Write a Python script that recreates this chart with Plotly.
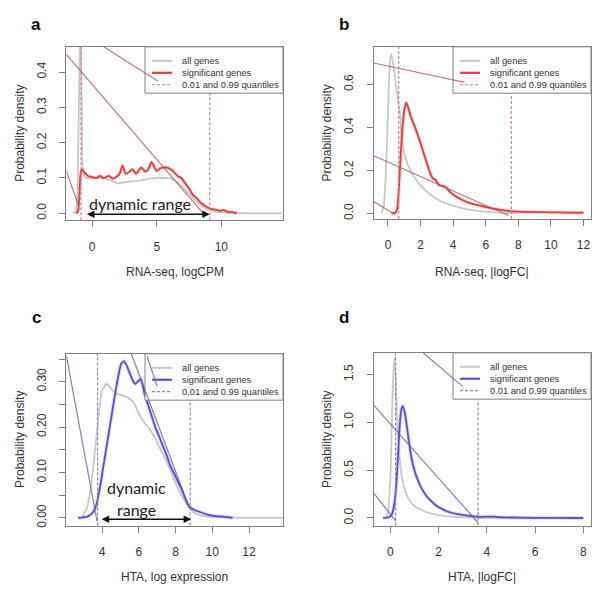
import plotly.graph_objects as go

# ---------------- data ----------------
# panel a: RNA-seq, logCPM
a_all_x = [-1.5, -1.3, -1.15, -1.05, -0.95, -0.9, -0.85, -0.8, -0.75, -0.65, -0.5, -0.2, 0, 0.5, 1, 1.5, 2, 2.5, 3, 3.5, 4,
           4.5, 5, 5.5, 6, 6.5, 7, 7.5, 8, 8.5, 9, 9.5, 10, 11, 12, 13, 14.7]
a_all_y = [0, 0.005, 0.05, 0.25, 0.5, 0.6, 0.45, 0.25, 0.14, 0.11, 0.1, 0.1, 0.1, 0.1, 0.098, 0.092, 0.085, 0.088, 0.09,
           0.092, 0.095, 0.098, 0.1, 0.1, 0.1, 0.09, 0.075, 0.055, 0.035, 0.02, 0.01, 0.005, 0.003, 0.001, 0, 0, 0]
a_sig_x = [-1.25, -1.1, -1.0, -0.9, -0.8, -0.7, -0.5, -0.3, 0, 0.3, 0.6, 0.9, 1.3, 1.6, 1.9, 2.1, 2.35, 2.6, 2.9, 3.1,
           3.4, 3.8, 4.1, 4.3, 4.6, 5.0, 5.3, 5.75, 6.0, 6.3, 6.6, 6.9, 7.2, 7.5, 7.8, 8.1, 8.4, 8.7, 9.0, 9.3, 9.6,
           9.9, 10.2, 10.5, 10.8, 11.2]
a_sig_y = [0, 0.005, 0.04, 0.11, 0.125, 0.12, 0.112, 0.105, 0.103, 0.1, 0.106, 0.1, 0.106, 0.098, 0.104, 0.11, 0.135,
           0.112, 0.118, 0.125, 0.112, 0.13, 0.118, 0.122, 0.145, 0.12, 0.128, 0.13, 0.126, 0.118, 0.106, 0.1, 0.085,
           0.07, 0.052, 0.042, 0.03, 0.022, 0.015, 0.012, 0.01, 0.007, 0.009, 0.004, 0.003, 0]
a_quant = [-0.86, 9.1]
a_range_arrow = [-0.52, 9.1]

# panel b: RNA-seq, |logFC|
b_all_x = [-0.4, -0.25, -0.1, 0, 0.1, 0.18, 0.27, 0.4, 0.55, 0.72, 0.82, 1.0, 1.2, 1.45, 1.7, 2.0, 2.4, 2.9, 3.4, 4.1,
           4.8, 5.5, 6.2, 7, 8]
b_all_y = [0, 0.04, 0.25, 0.48, 0.68, 0.74, 0.72, 0.65, 0.56, 0.47, 0.37, 0.28, 0.23, 0.19, 0.16, 0.13, 0.1, 0.072,
           0.052, 0.034, 0.02, 0.012, 0.007, 0.003, 0.001]
b_sig_x = [0.2, 0.45, 0.55, 0.62, 0.7, 0.8, 0.9, 1.0, 1.13, 1.25, 1.4, 1.64, 1.85, 2.05, 2.25, 2.45, 2.6, 2.76, 2.9,
           3.05, 3.2, 3.4, 3.58, 3.8, 4.1, 4.5, 4.9, 5.5, 6.1, 6.7, 7.36, 8, 9, 10, 11, 12]
b_sig_y = [0, 0.004, 0.015, 0.06, 0.16, 0.3, 0.41, 0.48, 0.515, 0.49, 0.45, 0.405, 0.36, 0.315, 0.265, 0.22, 0.185,
           0.162, 0.158, 0.14, 0.13, 0.127, 0.12, 0.1, 0.082, 0.065, 0.051, 0.038, 0.028, 0.019, 0.012, 0.008, 0.006,
           0.005, 0.004, 0.003]
b_quant = [0.66, 7.57]

# panel c: HTA, log expression
c_all_x = [2.9, 3.2, 3.4, 3.6, 3.8, 4.0, 4.25, 4.5, 4.8, 5.1, 5.4, 5.7, 6.0, 6.3, 6.6, 6.9, 7.2, 7.5, 7.8, 8.1, 8.4,
           8.7, 9.0, 9.4, 10, 11, 12, 13, 13.85]
c_all_y = [0, 0.025, 0.07, 0.14, 0.22, 0.28, 0.295, 0.285, 0.274, 0.27, 0.265, 0.255, 0.23, 0.21, 0.195, 0.175, 0.15,
           0.125, 0.097, 0.068, 0.045, 0.025, 0.012, 0.005, 0.002, 0.001, 0, 0, 0]
c_sig_x = [2.7, 3.2, 3.5, 3.7, 3.9, 4.1, 4.3, 4.5, 4.7, 4.9, 5.05, 5.2, 5.35, 5.5, 5.65, 5.8, 5.95, 6.1, 6.2, 6.3, 6.5,
           6.7, 6.9, 7.1, 7.3, 7.5, 7.7, 7.9, 8.1, 8.3, 8.5, 8.75, 9.0, 9.4, 9.8, 10.2, 10.6, 11.1]
c_sig_y = [0, 0.003, 0.012, 0.03, 0.07, 0.12, 0.17, 0.22, 0.27, 0.315, 0.34, 0.345, 0.335, 0.32, 0.305, 0.295, 0.3,
           0.306, 0.295, 0.275, 0.25, 0.225, 0.2, 0.18, 0.16, 0.14, 0.117, 0.1, 0.083, 0.066, 0.047, 0.025, 0.018,
           0.012, 0.007, 0.004, 0.003, 0]
c_quant = [3.76, 8.8]
c_range_arrow = [3.9, 8.85]

# panel d: HTA, |logFC|
d_all_x = [-0.2, -0.1, 0, 0.05, 0.1, 0.165, 0.22, 0.3, 0.4, 0.5, 0.62, 0.74, 0.9, 1.1, 1.4, 1.8, 2.3, 2.8, 3.5, 5, 8]
d_all_y = [0, 0.05, 0.4, 0.85, 1.35, 1.67, 1.5, 0.95, 0.6, 0.4, 0.28, 0.21, 0.15, 0.11, 0.07, 0.04, 0.02, 0.01, 0.005,
           0.001, 0]
d_sig_x = [-0.3, -0.1, 0.05, 0.15, 0.25, 0.33, 0.4, 0.46, 0.52, 0.6, 0.68, 0.76, 0.86, 1.0, 1.15, 1.3, 1.5, 1.7, 1.9,
           2.1, 2.4, 2.8, 3.2, 3.7, 4.3, 4.5, 5, 6, 7, 8]
d_sig_y = [0, 0.005, 0.03, 0.12, 0.35, 0.7, 1.0, 1.14, 1.17, 1.1, 0.97, 0.82, 0.65, 0.5, 0.39, 0.31, 0.23, 0.175, 0.13,
           0.1, 0.065, 0.04, 0.025, 0.012, 0.015, 0.008, 0.005, 0.002, 0.001, 0]
d_quant = [0.22, 3.64]

# stray straight strokes visible over each panel: [x0, y0, x1, y1]
a_strokes = [[-2.0, 0.45, 8.6, 0.0], [0.91, 0.471, 5.08, 0.375], [-2.0, 0.12, -1.04, 0.02]]
b_strokes = [[-0.877, 0.70, 4.7, 0.61], [-0.877, 0.268, 7.4, -0.01], [-0.877, 0.055, 0.45, -0.006]]
c_strokes = [[2.057, 0.358, 3.73, -0.007], [5.6, 0.361, 8.45, 0.055], [6.45, 0.356, 7.0, 0.29]]
d_strokes = [[1.36, 1.726, 3.0, 1.375], [-0.688, 1.18, 3.64, -0.05], [-0.688, 0.26, 0.22, -0.03]]

# ---------------- styling ----------------
W, H = 600, 589
GRAY = "#c8c8c8"
RED = "#d5433a"
RED_HALO = "rgba(240,150,150,0.35)"
BLUE = "#5a50c6"
BLUE_HALO = "rgba(160,150,235,0.3)"
RED_Q = "#cc8595"
BLUE_Q = "#8a80c8"
RED_STROKE = "rgba(175,85,105,0.8)"
BLUE_STROKE = "rgba(105,95,170,0.8)"
FONT = "Liberation Sans, Arial, sans-serif"
TXT = "#333333"

panels = [
    dict(key="a", ax="x", ay="y", xd=(58.3, 275), yd=(39, 213), xr=[-2.0, 14.77], yr=[-0.0198, 0.4714],
         xt=[0, 5, 10], yt=[0.0, 0.1, 0.2, 0.3, 0.4], ytt=["0.0", "0.1", "0.2", "0.3", "0.4"],
         allx=a_all_x, ally=a_all_y, sigx=a_sig_x, sigy=a_sig_y, q=a_quant, col=RED, halo=RED_HALO, qcol=RED_Q,
         scol=RED_STROKE, strokes=a_strokes, title="RNA-seq, logCPM"),
    dict(key="b", ax="x2", ay="y2", xd=(365.7, 583), yd=(39, 211.7), xr=[-0.877, 12.46], yr=[-0.026, 0.775],
         xt=[0, 2, 4, 6, 8, 10, 12], yt=[0.0, 0.2, 0.4, 0.6], ytt=["0.0", "0.2", "0.4", "0.6"],
         allx=b_all_x, ally=b_all_y, sigx=b_sig_x, sigy=b_sig_y, q=b_quant, col=RED, halo=RED_HALO, qcol=RED_Q,
         scol=RED_STROKE, strokes=b_strokes, title="RNA-seq, |logFC|"),
    dict(key="c", ax="x3", ay="y3", xd=(58.3, 275), yd=(347, 519.3), xr=[2.057, 13.85], yr=[-0.0167, 0.3614],
         xt=[4, 6, 8, 10, 12], yt=[0.0, 0.05, 0.10, 0.15, 0.20, 0.25, 0.30, 0.35],
         ytt=["0.00", "", "0.10", "", "0.20", "", "0.30", ""],
         allx=c_all_x, ally=c_all_y, sigx=c_sig_x, sigy=c_sig_y, q=c_quant, col=BLUE, halo=BLUE_HALO, qcol=BLUE_Q,
         scol=BLUE_STROKE, strokes=c_strokes, title="HTA, log expression"),
    dict(key="d", ax="x4", ay="y4", xd=(365.7, 583), yd=(346, 519.3), xr=[-0.688, 8.32], yr=[-0.079, 1.726],
         xt=[0, 2, 4, 6, 8], yt=[0.0, 0.5, 1.0, 1.5], ytt=["0.0", "0.5", "1.0", "1.5"],
         allx=d_all_x, ally=d_all_y, sigx=d_sig_x, sigy=d_sig_y, q=d_quant, col=BLUE, halo=BLUE_HALO, qcol=BLUE_Q,
         scol=BLUE_STROKE, strokes=d_strokes, title="HTA, |logFC|"),
]


def PX(px):
    return px / W


def PY(py):
    return 1 - py / H


fig = go.Figure()
shapes = []
annotations = []
layout_axes = {}

for i, p in enumerate(panels):
    n = "" if i == 0 else str(i + 1)
    xa, ya = p["ax"], p["ay"]
    # curves
    fig.add_trace(go.Scatter(x=p["allx"], y=p["ally"], mode="lines", line=dict(color=GRAY, width=1.8, shape="spline",
                                                                              smoothing=0.6),
                             xaxis=xa, yaxis=ya, showlegend=False, hoverinfo="skip"))
    fig.add_trace(go.Scatter(x=p["sigx"], y=p["sigy"], mode="lines", line=dict(color=p["halo"], width=4,
                                                                              shape="spline", smoothing=0.6),
                             xaxis=xa, yaxis=ya, showlegend=False, hoverinfo="skip"))
    fig.add_trace(go.Scatter(x=p["sigx"], y=p["sigy"], mode="lines", line=dict(color=p["col"], width=1.8,
                                                                              shape="spline", smoothing=0.6),
                             xaxis=xa, yaxis=ya, showlegend=False, hoverinfo="skip"))

    # axes
    layout_axes["xaxis" + n] = dict(domain=[PX(p["xd"][0]), PX(p["xd"][1])], range=p["xr"], anchor=ya,
                                    tickvals=p["xt"], ticks="outside", ticklen=6, tickcolor="#808080",
                                    showline=True, mirror=True, linecolor="#808080", linewidth=1,
                                    showgrid=False, zeroline=False, ticklabelstandoff=9,
                                    tickfont=dict(family=FONT, size=12, color=TXT))
    layout_axes["yaxis" + n] = dict(domain=[PY(p["yd"][1]), PY(p["yd"][0])], range=p["yr"], anchor=xa,
                                    tickvals=p["yt"], ticktext=p["ytt"], tickangle=-90, ticks="outside", ticklen=6,
                                    tickcolor="#808080", showline=True, mirror=True, linecolor="#808080",
                                    linewidth=1, showgrid=False, zeroline=False, ticklabelstandoff=9,
                                    tickfont=dict(family=FONT, size=12, color=TXT))

    # quantile lines
    for q in p["q"]:
        shapes.append(dict(type="line", xref=xa, yref=ya + " domain", x0=q, x1=q, y0=0, y1=1, layer="above",
                           line=dict(color=p["qcol"], width=1.2, dash="3px,2px")))

    # legend box
    right, top = p["xd"][1], p["yd"][0]
    shapes.append(dict(type="rect", xref="paper", yref="paper", x0=PX(right - 138), x1=PX(right),
                       y0=PY(top + 46.5), y1=PY(top), fillcolor="white", layer="above",
                       line=dict(color="#808080", width=1)))
    rows = [top + 14, top + 26, top + 38]
    shapes.append(dict(type="line", xref="paper", yref="paper", x0=PX(right - 131), x1=PX(right - 111),
                       y0=PY(rows[0]), y1=PY(rows[0]), layer="above", line=dict(color=GRAY, width=2)))
    shapes.append(dict(type="line", xref="paper", yref="paper", x0=PX(right - 131), x1=PX(right - 111),
                       y0=PY(rows[1]), y1=PY(rows[1]), layer="above", line=dict(color=p["col"], width=2.2)))
    shapes.append(dict(type="line", xref="paper", yref="paper", x0=PX(right - 131), x1=PX(right - 111),
                       y0=PY(rows[2]), y1=PY(rows[2]), layer="above",
                       line=dict(color=p["qcol"], width=1.2, dash="3px,2px")))
    for txt, ry in zip(["all genes", "significant genes", "0.01 and 0.99 quantiles"], rows):
        annotations.append(dict(xref="paper", yref="paper", x=PX(right - 103), y=PY(ry), text=txt,
                                showarrow=False, xanchor="left", yanchor="middle",
                                font=dict(family=FONT, size=9.3, color=TXT)))

    # stray strokes (drawn over the legend, as in the original)
    for s in p["strokes"]:
        shapes.append(dict(type="line", xref=xa, yref=ya, x0=s[0], y0=s[1], x1=s[2], y1=s[3], layer="above",
                           line=dict(color=p["scol"], width=1.2)))

    # axis titles
    cx = (p["xd"][0] + p["xd"][1]) / 2
    cy = (p["yd"][0] + p["yd"][1]) / 2
    ty = 265 if i < 2 else 571
    annotations.append(dict(xref="paper", yref="paper", x=PX(cx), y=PY(ty), text=p["title"], showarrow=False,
                            xanchor="center", yanchor="middle", font=dict(family=FONT, size=12, color=TXT)))
    annotations.append(dict(xref="paper", yref="paper", x=PX(p["xd"][0] - 47), y=PY(cy),
                            text="Probability density", textangle=-90, showarrow=False, xanchor="center",
                            yanchor="middle", font=dict(family=FONT, size=12, color=TXT)))
    # panel letter
    annotations.append(dict(xref="paper", yref="paper", x=PX(p["xd"][0] - 30), y=PY(17 if i < 2 else 311),
                            text="<b>%s</b>" % p["key"], showarrow=False, xanchor="center", yanchor="middle",
                            font=dict(family=FONT, size=17, color="#111111")))

# dynamic range arrows and labels
for xa, ya, rng, lines_txt, tx, tys in [
    ("x", "y", a_range_arrow, ["dynamic range"], 3.7, [0.028]),
    ("x3", "y3", c_range_arrow, ["dynamic", "range"], 5.9, [0.066, 0.019]),
]:
    annotations.append(dict(xref=xa, yref=ya, axref=xa, ayref=ya, x=rng[1], y=-0.003, ax=rng[0], ay=-0.003,
                            text="", showarrow=True, arrowhead=2, startarrowhead=2, arrowside="end+start",
                            arrowsize=1, startarrowsize=1, arrowwidth=1.5, arrowcolor="#111111", standoff=0,
                            startstandoff=0))
    for t, yv in zip(lines_txt, tys):
        annotations.append(dict(xref=xa, yref=ya, x=tx, y=yv, text=t, showarrow=False, xanchor="center",
                                yanchor="middle", font=dict(family="Lato, Open Sans, sans-serif", size=16,
                                                            color="#222222")))

fig.update_layout(width=W, height=H, margin=dict(l=0, r=0, t=0, b=0), paper_bgcolor="white",
                  plot_bgcolor="white", showlegend=False, shapes=shapes, annotations=annotations, **layout_axes)

fig.write_html("out.html")
